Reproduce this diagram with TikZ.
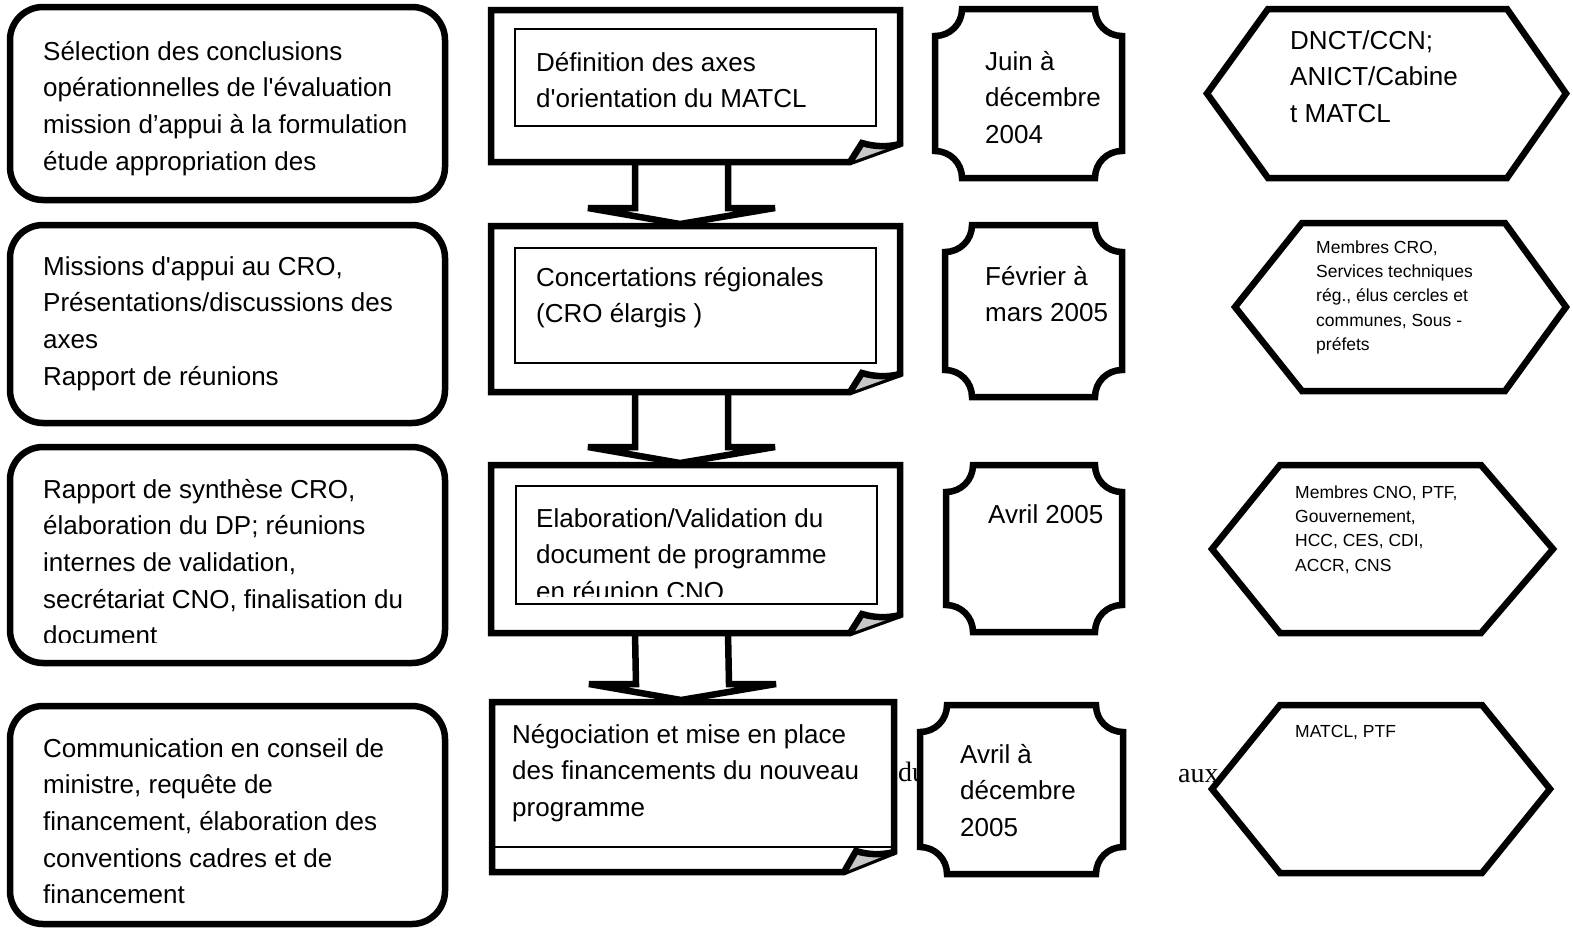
\documentclass[tikz,border=0pt]{standalone}
\usepackage{fontspec}
\setmainfont{Liberation Sans}[Ligatures=TeXOff]
\newfontfamily\bgserif{Liberation Serif}[Ligatures=TeXOff]
\usetikzlibrary{calc}

\tikzset{
  heavy/.style={line width=6.5pt, line join=miter, line cap=rect},
  hairline/.style={line width=2pt},
  docframe/.style={draw=none, inner sep=0pt, outer sep=0pt, anchor=north west},
  bigtext/.style={inner sep=0pt, anchor=base west, font=\fontsize{26}{36.7}\selectfont},
  smalltext/.style={inner sep=0pt, anchor=base west, font=\fontsize{17.5}{24.4}\selectfont},
  bgword/.style={inner sep=0pt, anchor=base west, font=\bgserif\fontsize{28}{34}\selectfont},
  foldfill/.style={fill=black!22}
}

% page with a folded lower-right corner: #1 node, #2 rise of the fold, #3 run of the fold
\newcommand\docpage[3]{%
  \draw[heavy, fill=white] (#1.north west) -- (#1.north east)
    -- ($(#1.south east)+(0,-#2)$) -- ($(#1.south east)+(-#3,0)$)
    -- (#1.south west) -- cycle;
  \fill[foldfill] ($(#1.south east)+(-#3,0)$) -- ($(#1.south east)+(-#3+12,-#2-1)$)
    -- ($(#1.south east)+(0,-#2)$) -- cycle;
  \draw[heavy, line cap=round] ($(#1.south east)+(-#3,0)$) -- ($(#1.south east)+(-#3+12,-#2-1)$)
    .. controls ($(#1.south east)+(-25,-#2+3)$) and ($(#1.south east)+(-12,-#2+3)$)
    .. ($(#1.south east)+(0,-#2)$);
}

% wide hollow arrow from the bottom of page #1 to the top of page #2
\newcommand\pagearrow[2]{%
  \draw[heavy, line cap=butt] ($(#1.south west)+(144,0)$) -- ($(#2.north west)+(144,-18)$)
    -- ($(#2.north west)+(97,-18)$) -- ($(#2.north west)+(189,-2)$)
    -- ($(#2.north west)+(284,-18)$) -- ($(#2.north west)+(237,-18)$)
    -- ($(#1.south west)+(237,0)$);
}

% plaque with concave corners: x1 y1 x2 y2
\newcommand\plaque[4]{%
  \draw[heavy, fill=white] ({#1+27},#2) -- ({#3-27},#2)
    .. controls ({#3-27},{#2+15}) and ({#3-15},{#2+27}) .. (#3,{#2+27})
    -- (#3,{#4-27})
    .. controls ({#3-15},{#4-27}) and ({#3-27},{#4-15}) .. ({#3-27},#4)
    -- ({#1+27},#4)
    .. controls ({#1+27},{#4-15}) and ({#1+15},{#4-27}) .. (#1,{#4-27})
    -- (#1,{#2+27})
    .. controls ({#1+15},{#2+27}) and ({#1+27},{#2+15}) .. cycle;
}

% hexagon: left x, top y, inner left x, inner right x, right x, bottom y
\newcommand\hexa[6]{%
  \draw[heavy, fill=white] (#1,{(#2+#6)/2}) -- (#3,#2) -- (#4,#2)
    -- (#5,{(#2+#6)/2}) -- (#4,#6) -- (#3,#6) -- cycle;
}

\begin{document}
\begin{tikzpicture}[x=1pt, y=-1pt]
\useasboundingbox[fill=white] (0,0) rectangle (1573,930);

% running text behind the shapes
\node[bgword] (bgdu) at (898,781) {du};
\node[bgword] (bgaux) at (1178,782) {aux};

% ---------- left column: activities ----------
\draw[heavy, rounded corners=33pt, fill=white] (10,7) rectangle (445,200);
\draw[heavy, rounded corners=33pt, fill=white] (10,225) rectangle (445,423);
\draw[heavy, rounded corners=33pt, fill=white] (10,447) rectangle (445,663);
\draw[heavy, rounded corners=33pt, fill=white] (10,706) rectangle (445,924);

\node[bigtext] (act1) at (43,60) {\parbox[t]{390pt}{\raggedright
  Sélection des conclusions\\opérationnelles de l'évaluation\\mission d’appui à la formulation\\étude appropriation des}};
\node[bigtext] (act2) at (43,275) {\parbox[t]{390pt}{\raggedright
  Missions d'appui au CRO,\\Présentations/discussions des\\axes\\Rapport de réunions}};
\begin{scope}
  \clip (14,451) rectangle (441,642);
  \node[bigtext] (act3) at (43,498) {\parbox[t]{390pt}{\raggedright
    Rapport de synthèse CRO,\\élaboration du DP; réunions\\internes de validation,\\secrétariat CNO, finalisation du\\document}};
\end{scope}
\node[bigtext] (act4) at (43,757) {\parbox[t]{390pt}{\raggedright
  Communication en conseil de\\ministre, requête de\\financement, élaboration des\\conventions cadres et de\\financement}};

% ---------- middle column: steps ----------
\node[docframe, minimum width=409pt, minimum height=152pt] (d1) at (491,10) {};
\node[docframe, minimum width=409pt, minimum height=166pt] (d2) at (491,226) {};
\node[docframe, minimum width=409pt, minimum height=168pt] (d3) at (491,465) {};
\node[docframe, minimum width=402pt, minimum height=170pt] (d4) at (492,702) {};

\docpage{d1}{18}{50}
\docpage{d2}{18}{50}
\docpage{d3}{18}{50}
\docpage{d4}{20}{50}

\draw[hairline] (515,29) rectangle (876,126);
\draw[hairline] (515,248) rectangle (876,363);
\draw[hairline] (516,486) rectangle (877,604);
\draw[hairline] (d4.west |- 0,847) -- (d4.east |- 0,847);

\node[bigtext] (step1) at (536,71) {\parbox[t]{340pt}{\raggedright
  Définition des axes\\d'orientation du MATCL}};
\node[bigtext] (step2) at (536,286) {\parbox[t]{340pt}{\raggedright
  Concertations régionales\\(CRO élargis )}};
\begin{scope}
  \clip (517,488) rectangle (875,596);
  \node[bigtext] (step3) at (536,527) {\parbox[t]{340pt}{\raggedright
    Elaboration/Validation du\\document de programme\\en réunion CNO}};
\end{scope}
\node[bigtext] (step4) at (512,743) {\parbox[t]{380pt}{\raggedright
  Négociation et mise en place\\des financements du nouveau\\programme}};

\pagearrow{d1}{d2}
\pagearrow{d2}{d3}
\pagearrow{d3}{d4}

% ---------- dates ----------
\plaque{935}{9}{1122}{178}
\plaque{945}{225}{1122}{397}
\plaque{946}{465}{1122}{632}
\plaque{920}{705}{1123}{874}

\node[bigtext] (date1) at (985,70) {\parbox[t]{130pt}{\raggedright Juin à\\décembre\\2004}};
\node[bigtext] (date2) at (985,285) {\parbox[t]{130pt}{\raggedright Février à\\mars 2005}};
\node[bigtext] (date3) at (988,523) {Avril 2005};
\node[bigtext] (date4) at (960,763) {\parbox[t]{150pt}{\raggedright Avril à\\décembre\\2005}};

% ---------- actors ----------
\hexa{1207}{9}{1268}{1507}{1566}{178}
\hexa{1235}{223}{1302}{1505}{1566}{391}
\hexa{1212}{465}{1280}{1481}{1553}{633}
\hexa{1212}{705}{1280}{1482}{1550}{873}

\node[bigtext] (who1) at (1290,49) {\parbox[t]{200pt}{\raggedright DNCT/CCN;\\ANICT/Cabine\\t MATCL}};
\node[smalltext] (who2) at (1316,253) {\parbox[t]{200pt}{\raggedright
  Membres CRO,\\Services techniques\\rég., élus cercles et\\communes, Sous -\\préfets}};
\node[smalltext] (who3) at (1295,498) {\parbox[t]{200pt}{\raggedright
  Membres CNO, PTF,\\Gouvernement,\\HCC, CES, CDI,\\ACCR, CNS}};
\node[smalltext] (who4) at (1295,737) {MATCL, PTF};
\end{tikzpicture}
\end{document}
